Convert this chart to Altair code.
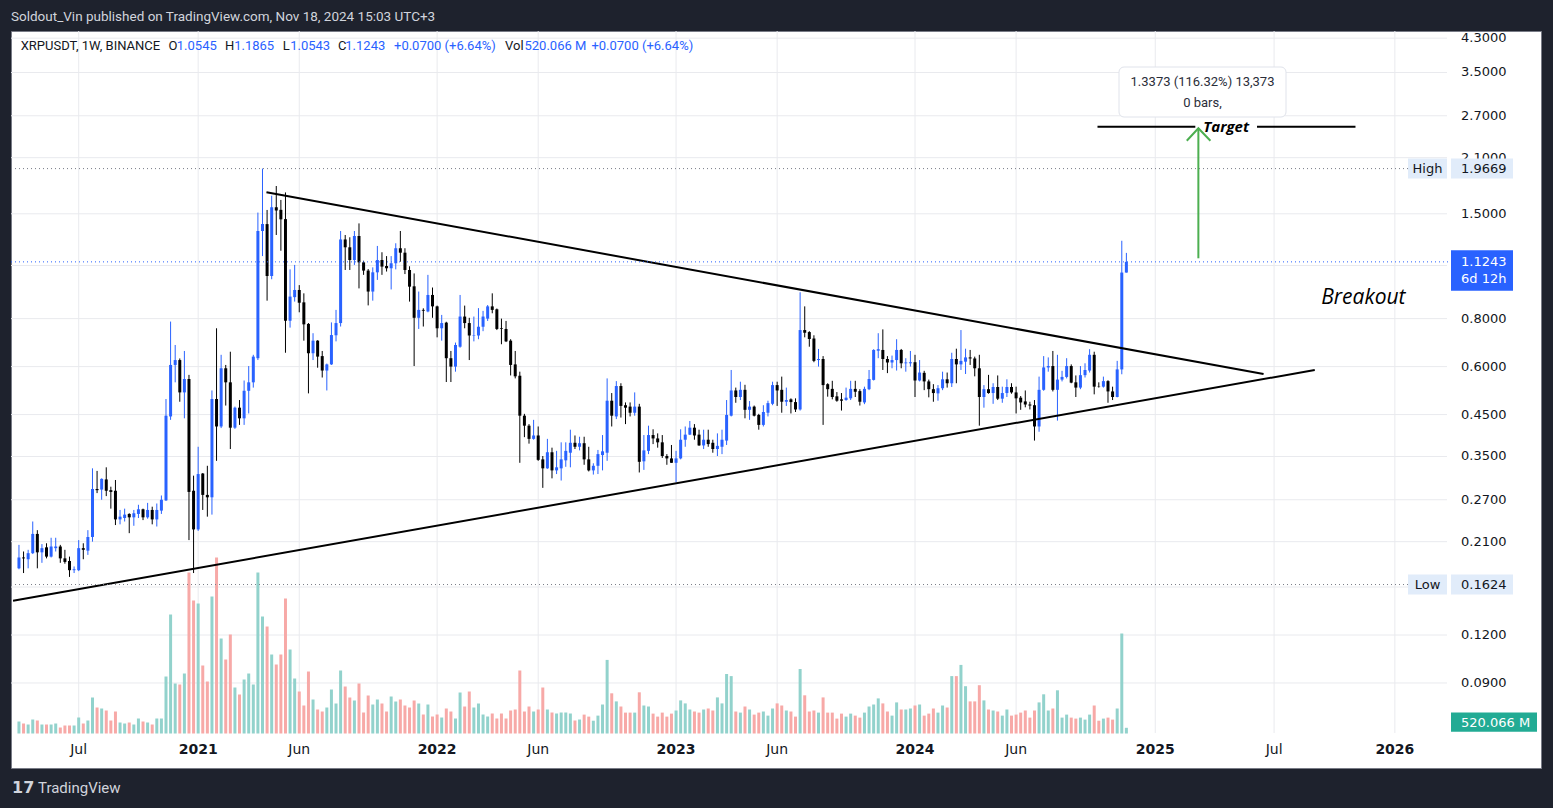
import math
import altair as alt
import pandas as pd

# ---------------- data (weekly XRPUSDT candles) ----------------
FIRST_WEEK = "2020-04-06"

open_ = [
    0.179, 0.191, 0.189, 0.196, 0.220, 0.197, 0.203, 0.192, 0.202, 0.204,
    0.190, 0.187, 0.177, 0.177, 0.202, 0.199, 0.216, 0.288, 0.287, 0.305,
    0.286, 0.285, 0.240, 0.242, 0.248, 0.243, 0.248, 0.255, 0.243, 0.254,
    0.240, 0.253, 0.269, 0.445, 0.606, 0.624, 0.514, 0.557, 0.285, 0.226,
    0.316, 0.278, 0.274, 0.494, 0.419, 0.594, 0.546, 0.416, 0.469, 0.440,
    0.519, 0.546, 0.631, 1.353, 1.410, 1.033, 1.560, 1.536, 1.453, 0.790,
    0.910, 0.950, 0.882, 0.775, 0.650, 0.701, 0.639, 0.586, 0.608, 0.724,
    0.779, 1.286, 1.227, 1.137, 1.313, 1.121, 1.067, 0.941, 1.056, 1.137,
    1.097, 1.082, 1.115, 1.220, 1.188, 1.071, 0.971, 0.804, 0.843, 0.835,
    0.922, 0.861, 0.755, 0.781, 0.631, 0.600, 0.676, 0.810, 0.779, 0.723,
    0.723, 0.762, 0.800, 0.861, 0.846, 0.755, 0.752, 0.701, 0.608, 0.568,
    0.447, 0.421, 0.389, 0.397, 0.344, 0.326, 0.359, 0.322, 0.326, 0.342,
    0.358, 0.380, 0.371, 0.379, 0.344, 0.322, 0.331, 0.353, 0.358, 0.489,
    0.445, 0.534, 0.476, 0.472, 0.455, 0.472, 0.340, 0.362, 0.398, 0.390,
    0.381, 0.351, 0.346, 0.337, 0.346, 0.387, 0.399, 0.416, 0.399, 0.374,
    0.387, 0.380, 0.366, 0.371, 0.385, 0.447, 0.520, 0.500, 0.522, 0.463,
    0.472, 0.449, 0.423, 0.455, 0.480, 0.537, 0.522, 0.486, 0.493, 0.485,
    0.464, 0.747, 0.738, 0.710, 0.624, 0.628, 0.540, 0.525, 0.502, 0.493,
    0.491, 0.496, 0.525, 0.518, 0.484, 0.524, 0.554, 0.660, 0.663, 0.628,
    0.615, 0.624, 0.663, 0.612, 0.612, 0.616, 0.552, 0.578, 0.549, 0.524,
    0.511, 0.527, 0.556, 0.543, 0.628, 0.608, 0.618, 0.634, 0.630, 0.594,
    0.500, 0.524, 0.512, 0.531, 0.495, 0.512, 0.531, 0.514, 0.498, 0.487,
    0.478, 0.476, 0.419, 0.522, 0.597, 0.602, 0.522, 0.555, 0.564, 0.602,
    0.546, 0.529, 0.570, 0.586, 0.644, 0.533, 0.532, 0.550, 0.517, 0.500,
    0.590, 1.0545,
]
high = [
    0.206, 0.198, 0.200, 0.237, 0.225, 0.207, 0.208, 0.215, 0.215, 0.206,
    0.200, 0.192, 0.181, 0.212, 0.208, 0.225, 0.326, 0.321, 0.307, 0.328,
    0.292, 0.304, 0.254, 0.256, 0.249, 0.254, 0.262, 0.256, 0.265, 0.259,
    0.264, 0.277, 0.494, 0.786, 0.683, 0.630, 0.659, 0.571, 0.312, 0.371,
    0.317, 0.331, 0.520, 0.755, 0.644, 0.606, 0.656, 0.472, 0.491, 0.552,
    0.602, 0.644, 1.511, 1.967, 1.535, 1.672, 1.772, 1.630, 1.705, 1.075,
    1.104, 0.978, 0.931, 0.779, 0.733, 0.703, 0.659, 0.611, 0.782, 0.843,
    1.353, 1.321, 1.303, 1.353, 1.416, 1.132, 1.077, 1.088, 1.237, 1.191,
    1.164, 1.164, 1.257, 1.353, 1.220, 1.095, 1.049, 0.941, 0.851, 1.040,
    0.964, 0.865, 0.818, 0.785, 0.659, 0.693, 0.922, 0.865, 0.804, 0.810,
    0.852, 0.838, 0.868, 0.931, 0.850, 0.800, 0.789, 0.707, 0.659, 0.582,
    0.452, 0.425, 0.436, 0.419, 0.351, 0.389, 0.369, 0.362, 0.381, 0.381,
    0.411, 0.397, 0.394, 0.394, 0.371, 0.336, 0.364, 0.398, 0.559, 0.512,
    0.550, 0.543, 0.484, 0.484, 0.514, 0.480, 0.398, 0.421, 0.412, 0.402,
    0.398, 0.355, 0.375, 0.362, 0.412, 0.419, 0.433, 0.425, 0.411, 0.411,
    0.411, 0.387, 0.402, 0.411, 0.491, 0.588, 0.529, 0.548, 0.538, 0.488,
    0.475, 0.452, 0.476, 0.489, 0.548, 0.548, 0.565, 0.529, 0.496, 0.496,
    0.937, 0.861, 0.742, 0.724, 0.667, 0.639, 0.543, 0.551, 0.515, 0.512,
    0.529, 0.551, 0.551, 0.524, 0.532, 0.588, 0.666, 0.733, 0.750, 0.639,
    0.641, 0.707, 0.667, 0.631, 0.659, 0.644, 0.624, 0.585, 0.555, 0.540,
    0.537, 0.582, 0.579, 0.652, 0.668, 0.747, 0.668, 0.663, 0.637, 0.644,
    0.537, 0.571, 0.543, 0.569, 0.532, 0.556, 0.543, 0.532, 0.503, 0.520,
    0.486, 0.491, 0.565, 0.639, 0.634, 0.659, 0.644, 0.585, 0.631, 0.608,
    0.569, 0.602, 0.612, 0.666, 0.656, 0.546, 0.565, 0.553, 0.532, 0.621,
    1.276, 1.1865,
]
low = [
    0.178, 0.174, 0.179, 0.195, 0.179, 0.185, 0.190, 0.191, 0.198, 0.185,
    0.184, 0.170, 0.174, 0.176, 0.189, 0.194, 0.210, 0.281, 0.270, 0.276,
    0.256, 0.232, 0.233, 0.237, 0.221, 0.231, 0.242, 0.239, 0.241, 0.233,
    0.230, 0.248, 0.268, 0.436, 0.546, 0.486, 0.440, 0.212, 0.174, 0.224,
    0.254, 0.244, 0.247, 0.341, 0.415, 0.475, 0.366, 0.413, 0.423, 0.423,
    0.453, 0.529, 0.624, 1.164, 0.891, 1.013, 1.321, 1.202, 0.652, 0.758,
    0.886, 0.831, 0.701, 0.511, 0.624, 0.596, 0.562, 0.520, 0.606, 0.698,
    0.763, 1.071, 1.071, 1.104, 0.959, 1.040, 0.866, 0.891, 1.009, 1.040,
    1.061, 0.953, 1.075, 1.125, 1.045, 0.886, 0.602, 0.752, 0.763, 0.831,
    0.804, 0.715, 0.701, 0.547, 0.547, 0.582, 0.672, 0.755, 0.624, 0.698,
    0.707, 0.742, 0.789, 0.826, 0.747, 0.686, 0.695, 0.569, 0.559, 0.337,
    0.393, 0.378, 0.387, 0.341, 0.290, 0.325, 0.307, 0.315, 0.303, 0.329,
    0.328, 0.366, 0.363, 0.333, 0.320, 0.314, 0.315, 0.322, 0.341, 0.419,
    0.438, 0.442, 0.425, 0.445, 0.447, 0.318, 0.323, 0.355, 0.377, 0.369,
    0.347, 0.333, 0.337, 0.300, 0.344, 0.371, 0.398, 0.387, 0.373, 0.366,
    0.371, 0.358, 0.351, 0.355, 0.375, 0.445, 0.483, 0.491, 0.440, 0.436,
    0.445, 0.411, 0.419, 0.445, 0.476, 0.474, 0.455, 0.474, 0.453, 0.457,
    0.461, 0.715, 0.676, 0.616, 0.600, 0.423, 0.501, 0.493, 0.486, 0.461,
    0.489, 0.491, 0.500, 0.475, 0.479, 0.521, 0.552, 0.631, 0.588, 0.577,
    0.594, 0.586, 0.594, 0.582, 0.600, 0.500, 0.549, 0.521, 0.499, 0.486,
    0.489, 0.521, 0.529, 0.531, 0.543, 0.588, 0.574, 0.606, 0.566, 0.421,
    0.469, 0.510, 0.480, 0.491, 0.483, 0.500, 0.510, 0.453, 0.463, 0.470,
    0.464, 0.385, 0.406, 0.519, 0.582, 0.517, 0.434, 0.549, 0.559, 0.543,
    0.500, 0.524, 0.562, 0.579, 0.508, 0.529, 0.529, 0.483, 0.491, 0.499,
    0.573, 1.0543,
]
close = [
    0.191, 0.190, 0.196, 0.220, 0.197, 0.202, 0.192, 0.204, 0.204, 0.190,
    0.186, 0.177, 0.178, 0.202, 0.200, 0.216, 0.288, 0.286, 0.306, 0.285,
    0.283, 0.240, 0.244, 0.247, 0.243, 0.249, 0.255, 0.243, 0.254, 0.240,
    0.254, 0.270, 0.447, 0.606, 0.624, 0.514, 0.557, 0.283, 0.226, 0.315,
    0.278, 0.274, 0.494, 0.419, 0.594, 0.546, 0.416, 0.469, 0.440, 0.519,
    0.546, 0.637, 1.353, 1.411, 1.033, 1.560, 1.530, 1.451, 0.790, 0.913,
    0.950, 0.880, 0.773, 0.650, 0.701, 0.637, 0.586, 0.608, 0.725, 0.779,
    1.286, 1.227, 1.137, 1.313, 1.121, 1.067, 0.941, 1.056, 1.137, 1.093,
    1.082, 1.115, 1.220, 1.188, 1.071, 0.969, 0.804, 0.843, 0.839, 0.922,
    0.861, 0.755, 0.779, 0.631, 0.600, 0.683, 0.810, 0.779, 0.723, 0.725,
    0.762, 0.810, 0.861, 0.843, 0.752, 0.752, 0.698, 0.606, 0.566, 0.447,
    0.421, 0.389, 0.397, 0.343, 0.326, 0.359, 0.322, 0.328, 0.344, 0.362,
    0.380, 0.371, 0.379, 0.344, 0.322, 0.331, 0.355, 0.361, 0.489, 0.447,
    0.534, 0.474, 0.469, 0.455, 0.472, 0.339, 0.363, 0.398, 0.390, 0.381,
    0.351, 0.346, 0.337, 0.346, 0.387, 0.399, 0.416, 0.397, 0.374, 0.387,
    0.377, 0.366, 0.373, 0.387, 0.449, 0.520, 0.500, 0.522, 0.463, 0.472,
    0.447, 0.423, 0.457, 0.482, 0.537, 0.520, 0.486, 0.491, 0.485, 0.464,
    0.747, 0.735, 0.708, 0.621, 0.628, 0.537, 0.524, 0.500, 0.489, 0.489,
    0.498, 0.525, 0.516, 0.486, 0.525, 0.557, 0.663, 0.666, 0.628, 0.615,
    0.624, 0.663, 0.612, 0.615, 0.616, 0.552, 0.579, 0.549, 0.524, 0.512,
    0.527, 0.556, 0.543, 0.628, 0.608, 0.621, 0.634, 0.630, 0.594, 0.500,
    0.524, 0.512, 0.531, 0.495, 0.512, 0.531, 0.514, 0.496, 0.484, 0.478,
    0.475, 0.419, 0.522, 0.597, 0.602, 0.522, 0.555, 0.564, 0.602, 0.545,
    0.529, 0.570, 0.588, 0.644, 0.532, 0.532, 0.550, 0.517, 0.500, 0.590,
    1.0545, 1.1243,
]
volume_m = [
    1094, 912, 821, 1277, 1186, 821, 821, 821, 912, 547,
    730, 730, 730, 1459, 912, 1186, 3283, 2371, 2280, 2098,
    1186, 2006, 1003, 912, 1003, 821, 1368, 1094, 1003, 821,
    1368, 1368, 5198, 10853, 4560, 4469, 5472, 14683, 12130, 11856,
    6202, 4742, 12494, 16051, 8664, 6749, 9029, 4195, 3557, 4925,
    5472, 4469, 14683, 10670, 9758, 7205, 6293, 7205, 12312, 7661,
    5016, 3830, 2554, 5654, 3101, 2189, 2006, 2371, 4013, 2736,
    5746, 4286, 3283, 3010, 4560, 1915, 3466, 2645, 3101, 2736,
    2006, 3374, 2918, 3101, 2554, 2371, 3010, 2736, 1733, 2645,
    1550, 1733, 1459, 2280, 2006, 1368, 3739, 2462, 3830, 2371,
    2736, 1733, 1550, 1824, 1368, 1824, 1368, 2098, 2189, 5746,
    2006, 2462, 2006, 2189, 4195, 2189, 1915, 1824, 1915, 1915,
    1824, 1186, 1277, 1724, 1541, 1167, 1632, 2645, 6712, 3666,
    2928, 2462, 1906, 1906, 1906, 3757, 2554, 2462, 1815, 1541,
    1906, 1541, 1815, 2098, 3019, 2745, 2189, 2006, 1906, 2189,
    2280, 2098, 3292, 2745, 5426, 5235, 2006, 1906, 2462, 2189,
    1724, 1906, 2006, 1632, 2280, 2745, 2554, 2098, 2006, 1541,
    5882, 3484, 2006, 2098, 1906, 3292, 1906, 1906, 1359, 1815,
    1541, 1815, 1632, 1450, 1906, 2462, 2645, 3201, 2745, 2006,
    1632, 2836, 2189, 2189, 2280, 2554, 2645, 1632, 1815, 2280,
    1906, 2554, 2371, 5235, 5235, 6256, 4314, 2928, 2928, 4405,
    3019, 2189, 2098, 2006, 1632, 2189, 1632, 1724, 1906, 2098,
    1450, 2098, 2836, 3575, 2098, 2280, 3940, 1450, 1724, 1450,
    1359, 1450, 1268, 1724, 2554, 1167, 1359, 1450, 1268, 2280,
    9120, 520.066,
]

x_tick_dates = ["2020-07-06", "2021-01-04", "2021-06-07", "2022-01-03", "2022-06-06",
                "2023-01-02", "2023-06-05", "2024-01-01", "2024-06-03", "2025-01-01",
                "2025-07-01", "2026-01-01"]
x_tick_labels = ["Jul", "2021", "Jun", "2022", "Jun", "2023", "Jun", "2024", "Jun", "2025", "Jul", "2026"]
y_ticks = [4.3, 3.5, 2.7, 2.1, 1.5, 1.1, 0.8, 0.6, 0.45, 0.35, 0.27, 0.21, 0.16, 0.12, 0.09]
# scale labels that sit fully under the High/Low/last-price boxes are not visible
y_hidden_labels = [1.1, 0.16]

high_mark = 1.9669
low_mark = 0.1624
last_price = 1.1243

upper_line_dates = ["2021-04-18", "2025-06-15"]
upper_line_prices = [1.706, 0.574]
lower_line_dates = ["2020-03-28", "2025-09-01"]
lower_line_prices = [0.1473, 0.588]

target_price = 2.529
target_left_dates = ["2024-10-05", "2025-03-03"]
target_right_dates = ["2025-06-05", "2025-11-02"]
target_text_date = "2025-04-19"

arrow_date = "2025-03-07T16:00:00Z"
arrow_from_price = 1.1487
arrow_to_price = 2.505
arrow_wing_dates = ["2025-02-18", "2025-03-26"]
arrow_wing_price = 2.325

breakout_date = "2025-11-14"
breakout_price = 0.905

# ---------------- layout / style ----------------
W, H = 1530, 737
X_DOMAIN = [alt.DateTime(year=2020, month=4, date=1, hours=12, utc=True),
            alt.DateTime(year=2026, month=8, date=4, utc=True)]
Y_MIN, Y_MAX = 0.054054, 4.4887
VOL_MIN, VOL_MAX = -3146, 64068

UP, DOWN = "#2962FF", "#000000"
VOL_UP, VOL_DOWN = "#92D2CC", "#F7A9A7"
GRID = "#E9EAEE"
TXT = "#131722"
AXF = "DejaVu Sans"
HF = "Roboto"


def py(p):
    return H * (math.log(Y_MAX) - math.log(p)) / (math.log(Y_MAX) - math.log(Y_MIN))


xscale = alt.Scale(type="utc", domain=X_DOMAIN, nice=False)
yscale = alt.Scale(type="log", domain=[Y_MIN, Y_MAX], nice=False)
vscale = alt.Scale(domain=[VOL_MIN, VOL_MAX], nice=False, zero=False)

dates = pd.date_range(FIRST_WEEK, periods=len(close), freq="7D").strftime("%Y-%m-%d")
df = pd.DataFrame({"date": dates, "open": open_, "high": high, "low": low,
                   "close": close, "volume": volume_m})

up_cond = alt.condition("datum.close >= datum.open", alt.value(UP), alt.value(DOWN))
vol_cond = alt.condition("datum.close >= datum.open", alt.value(VOL_UP), alt.value(VOL_DOWN))


def X(f="date:T"):
    return alt.X(f, scale=xscale, axis=None)


def Yp(f):
    return alt.Y(f, scale=yscale, axis=None)


# grid
grid_h = alt.Chart(pd.DataFrame({"p": y_ticks})).mark_rule(color=GRID, strokeWidth=1).encode(
    y=Yp("p:Q"), x=alt.value(0), x2=alt.value(1436))
grid_v = alt.Chart(pd.DataFrame({"d": x_tick_dates})).mark_rule(color=GRID, strokeWidth=1).encode(
    x=X("d:T"), y=alt.value(0), y2=alt.value(702))

# axis labels drawn through the scales
shown = [v for v in y_ticks if v not in y_hidden_labels]
ylab_df = pd.DataFrame({"p": shown, "lab": [f"{v:.4f}" for v in shown]})
y_labels = alt.Chart(ylab_df).mark_text(align="left", baseline="middle", font=AXF, fontSize=13,
                                        color=TXT).encode(
    y=Yp("p:Q"), x=alt.value(1450), text="lab:N")
xlab_df = pd.DataFrame({"d": x_tick_dates, "lab": x_tick_labels,
                        "year": [lab.isdigit() for lab in x_tick_labels]})
x_labels_m = alt.Chart(xlab_df).transform_filter("!datum.year").mark_text(
    align="center", baseline="middle", font=AXF, fontSize=14, color=TXT).encode(
    x=X("d:T"), y=alt.value(719), text="lab:N")
x_labels_y = alt.Chart(xlab_df).transform_filter("datum.year").mark_text(
    align="center", baseline="middle", font=AXF, fontSize=14, fontWeight="bold", color=TXT).encode(
    x=X("d:T"), y=alt.value(719), text="lab:N")

grid_group = alt.layer(grid_h, grid_v, y_labels, x_labels_m, x_labels_y)

# volume
volume = alt.Chart(df).mark_bar(size=3).encode(
    x=X(), y=alt.Y("volume:Q", scale=vscale, axis=None), y2=alt.datum(0), color=vol_cond)

# candles
wick = alt.Chart(df).mark_rule(strokeWidth=1).encode(
    x=X(), y=Yp("low:Q"), y2="high:Q", color=up_cond)
body = alt.Chart(df).mark_bar(size=3).encode(
    x=X(), y=Yp("open:Q"), y2="close:Q", color=up_cond)

# trend lines
trend_df = pd.DataFrame({"line": ["upper", "upper", "lower", "lower"],
                         "date": upper_line_dates + lower_line_dates,
                         "price": upper_line_prices + lower_line_prices})
trend = alt.Chart(trend_df).mark_line(color="black", strokeWidth=2, clip=True).encode(
    x=X(), y=Yp("price:Q"), detail="line:N")

target_df = pd.DataFrame({"line": ["l", "l", "r", "r"],
                          "date": target_left_dates + target_right_dates,
                          "price": [target_price] * 4})
target_lines = alt.Chart(target_df).mark_line(color="black", strokeWidth=2).encode(
    x=X(), y=Yp("price:Q"), detail="line:N")
target_text = alt.Chart(pd.DataFrame({"date": [target_text_date], "price": [target_price],
                                      "t": ["Target"]})).mark_text(
    font="Open Sans", fontStyle="italic", fontWeight="bold", fontSize=15, color="black",
    align="center", baseline="middle").encode(x=X(), y=Yp("price:Q"), text="t:N")

arrow_df = pd.DataFrame({
    "part": ["shaft", "shaft", "head", "head", "head"],
    "k": [0, 1, 0, 1, 2],
    "date": [arrow_date, arrow_date, arrow_wing_dates[0], arrow_date, arrow_wing_dates[1]],
    "price": [arrow_from_price, arrow_to_price, arrow_wing_price, arrow_to_price, arrow_wing_price]})
arrow = alt.Chart(arrow_df).mark_line(color="#4CAF50", strokeWidth=2).encode(
    x=X(), y=Yp("price:Q"), detail="part:N", order="k:Q")

breakout = alt.Chart(pd.DataFrame({"date": [breakout_date], "price": [breakout_price],
                                   "t": ["Breakout"]})).mark_text(
    font="Open Sans", fontStyle="italic", fontSize=21, color="black", align="center",
    baseline="middle").encode(x=X(), y=Yp("price:Q"), text="t:N")

# dotted reference lines
hl_lines = alt.Chart(pd.DataFrame({"p": [high_mark, low_mark]})).mark_rule(
    color="#787B86", strokeDash=[1, 3], strokeWidth=1).encode(
    y=Yp("p:Q"), x=alt.value(0), x2=alt.value(1397))
last_line = alt.Chart(pd.DataFrame({"p": [last_price]})).mark_rule(
    color=UP, strokeDash=[1, 3], strokeWidth=1).encode(
    y=Yp("p:Q"), x=alt.value(0), x2=alt.value(1440))

price_group = alt.layer(wick, body, trend, target_lines, target_text, arrow, breakout,
                        hl_lines, last_line)


# ---------------- labels / boxes (pixel positions) ----------------
def box(x1, x2, y1, y2, **kw):
    return alt.Chart(pd.DataFrame({"k": [0]})).mark_rect(**kw).encode(
        x=alt.value(x1), x2=alt.value(x2), y=alt.value(y1), y2=alt.value(y2))


def txt(t, x, y, **kw):
    kw.setdefault("baseline", "middle")
    kw.setdefault("align", "left")
    return alt.Chart(pd.DataFrame({"t": [t]})).mark_text(**kw).encode(
        x=alt.value(x), y=alt.value(y), text="t:N")


LBL = "#E1ECFA"
annots = []
yh, yl, yp = py(high_mark), py(low_mark), py(last_price)
for name, val, yy in [("High", high_mark, yh), ("Low", low_mark, yl)]:
    annots += [box(1397, 1436, yy - 10, yy + 10, fill=LBL),
               box(1440, 1502, yy - 10, yy + 10, fill=LBL),
               txt(name, 1416.5, yy, align="center", font=AXF, fontSize=13, color=TXT),
               txt(f"{val:.4f}", 1450, yy, font=AXF, fontSize=13, color=TXT)]
annots += [box(1440, 1502, yp - 11.5, yp + 29, fill=UP),
           txt(f"{last_price:.4f}", 1450, yp, font=AXF, fontSize=13, color="white"),
           txt("6d 12h", 1450, yp + 17.5, font=AXF, fontSize=13, color="white"),
           box(1440, 1526, 681.5, 700.7, fill="#22AB94"),
           txt("520.066 M", 1450, 691.5, font=AXF, fontSize=13, color="white")]

# measure tooltip
annots += [box(1108, 1275, 36, 86, fill="white", stroke="#E0E3EB", strokeWidth=1, cornerRadius=5),
           txt("1.3373 (116.32%) 13,373", 1191.5, 50.7, align="center", font=HF, fontSize=13,
               color="#2A2E39"),
           txt("0 bars,", 1191.5, 72.3, align="center", font=HF, fontSize=13, color="#2A2E39")]

# legend row
legend_items = [("XRPUSDT, 1W, BINANCE", 9.7, TXT), ("O", 157.5, TXT), ("1.0545", 165.8, UP),
                ("H", 214, TXT), ("1.1865", 223.2, UP), ("L", 271.8, TXT), ("1.0543", 279.2, UP),
                ("C", 326.9, TXT), ("1.1243", 334.3, UP), ("+0.0700 (+6.64%)", 383, UP),
                ("Vol", 494, TXT), ("520.066 M", 513.5, UP), ("+0.0700 (+6.64%)", 580.4, UP)]
for t, xx, c in legend_items:
    annots.append(txt(t, xx, 15, font=HF, fontSize=13, color=c))

# frame texts
annots += [txt("Soldout_Vin published on TradingView.com, Nov 18, 2024 15:03 UTC+3", 0, -14.3,
               font=HF, fontSize=13.5, color="#D1D4DC"),
           txt("17", 1, 757, font=AXF, fontSize=16, fontWeight="bold", color="#D1D4DC"),
           txt("TradingView", 27, 757, font=HF, fontSize=15, color="#D1D4DC")]

chart = alt.layer(grid_group, volume, price_group, *annots).resolve_scale(y="independent").properties(
    width=W, height=H,
    padding={"left": 11, "top": 31, "right": 12, "bottom": 40},
    autosize=alt.AutoSizeParams(type="none"),
    background="#1E222D",
).configure_view(fill="white", stroke="#787B86", strokeWidth=1)

chart.save("out.html", embed_options={"renderer": "svg", "actions": False})
